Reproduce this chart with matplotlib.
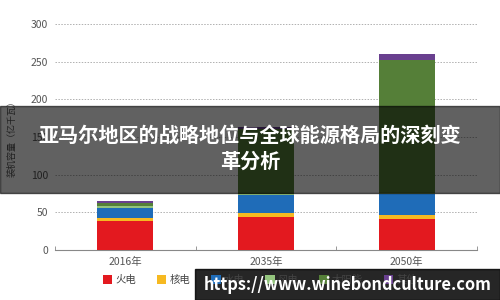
import numpy as np
import matplotlib.pyplot as plt
from matplotlib.patches import Rectangle

plt.rcParams['font.family'] = ['Noto Sans CJK SC', 'DejaVu Sans']

# 数据（亿千瓦）
years = ['2016年', '2035年', '2050年']
names = ['火电', '核电', '水电', '风电', '太阳能', '其他']
coal = [39, 44, 41]
nuclear = [4, 5, 5]
hydro = [13, 24, 28]
wind = [3, 1, 2]
solar = [3, 86, 176]
other = [3, 3, 8]
colors = ['#e3191f', '#f6b921', '#1f6cb8', '#93c47d', '#557f38', '#69408f']

title_lines = ['亚马尔地区的战略地位与全球能源格局的深刻变', '革分析']
url = 'https://www.winebondculture.com'


def draw():
    fig = plt.figure(figsize=(5, 3), dpi=100)
    ax = fig.add_axes([0.11, 0.1667, 0.844, 0.7533])

    x = np.arange(len(years))
    bottom = np.zeros(len(years))
    handles = []
    for vals, c, n in zip([coal, nuclear, hydro, wind, solar, other], colors, names):
        b = ax.bar(x, vals, 0.4, bottom=bottom, color=c, label=n, zorder=3)
        handles.append(b)
        bottom += np.array(vals)

    ax.set_xlim(-0.5, 2.5)
    ax.set_ylim(0, 300)
    ax.set_yticks(range(0, 301, 50))
    ax.set_xticks(x)
    ax.set_xticklabels(years)
    ax.set_xticks([-0.5, 0.5, 1.5, 2.5], minor=True)
    ax.tick_params(axis='x', which='major', length=0, labelsize=7.5,
                   labelcolor='#555555', pad=5)
    ax.tick_params(axis='x', which='minor', direction='in', length=3,
                   color='#888888')
    ax.tick_params(axis='y', length=0, labelsize=7.5, labelcolor='#555555', pad=5)
    for y in range(50, 301, 50):
        ax.axhline(y, color='#b0b0b0', lw=0.7, ls=(0, (1.5, 1.5)), zorder=1)
    for s in ['top', 'right', 'left']:
        ax.spines[s].set_visible(False)
    ax.spines['bottom'].set_color('#888888')
    ax.spines['bottom'].set_linewidth(0.8)
    ax.set_ylabel('装机容量（亿千瓦）', fontsize=6.5, color='#555555', labelpad=10)

    fig.legend(handles=handles, labels=names, loc='center',
               bbox_to_anchor=(0.52, 0.067), ncol=6, frameon=False,
               fontsize=7.5, handlelength=0.9, handleheight=0.9,
               handletextpad=0.3, columnspacing=2.0,
               labelcolor='#444444')

    # 标题遮罩
    fig.patches.append(Rectangle((0, 1 - 193 / 300), 1, 87 / 300,
                                 transform=fig.transFigure, color='black',
                                 alpha=0.62, zorder=5))
    fig.text(0.5, 1 - 135 / 300, title_lines[0], ha='center', va='center',
             fontsize=14.5, fontweight='bold', color='white', zorder=6)
    fig.text(0.5, 1 - 161 / 300, title_lines[1], ha='center', va='center',
             fontsize=14.5, fontweight='bold', color='white', zorder=6)

    # 网址水印
    fig.patches.append(Rectangle((195 / 500, 0), 305 / 500, 31 / 300,
                                 transform=fig.transFigure, color='black',
                                 alpha=0.85, zorder=5))
    fig.text(348 / 500, 1 - 285 / 300, url, ha='center', va='center',
             fontsize=11.8, fontweight='bold', color='white', zorder=6)

    fig.savefig('out.png', dpi=100)


if __name__ == "__main__":
    draw()
